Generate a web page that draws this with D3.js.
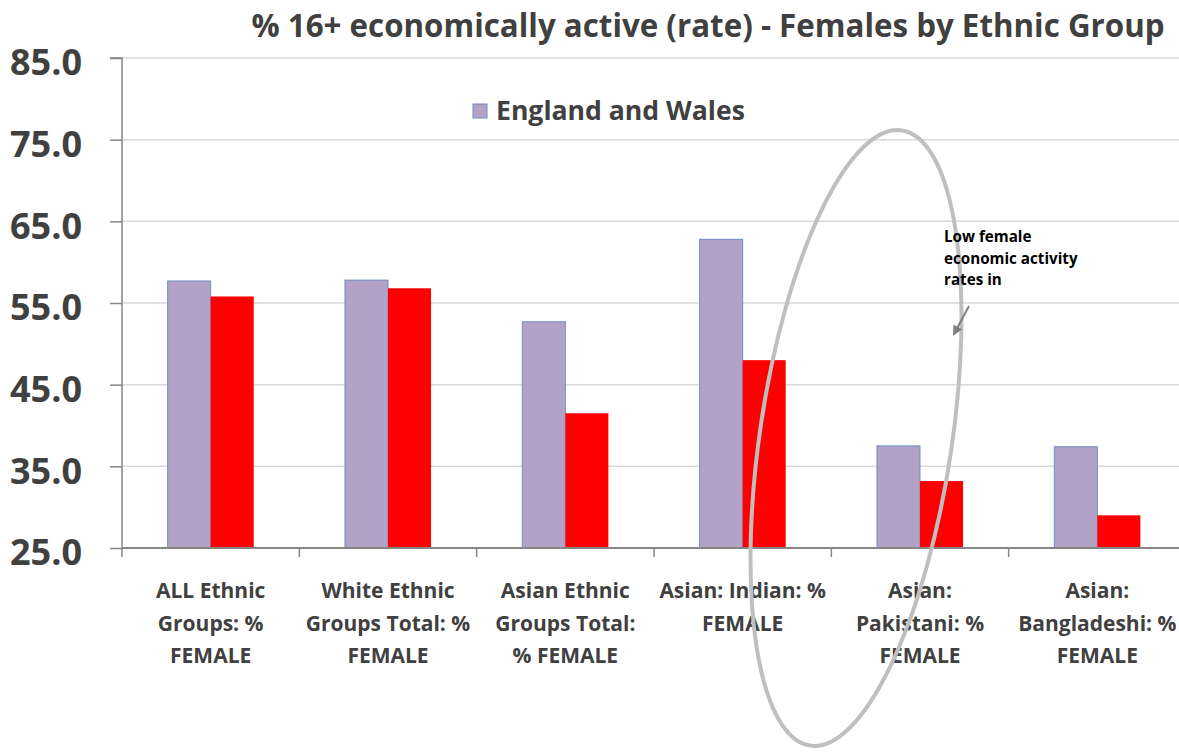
<!DOCTYPE html>
<html><head><meta charset="utf-8">
<script src="https://cdn.jsdelivr.net/npm/d3@7"></script>
<style>body{margin:0;background:#fff}svg{display:block}text{font-family:"Open Sans",Lato,sans-serif;font-weight:700}</style>
</head><body><svg id="c" width="1179" height="756"></svg>
<script>
const categories = [
  ["ALL Ethnic","Groups: %","FEMALE"],
  ["White Ethnic","Groups Total: %","FEMALE"],
  ["Asian Ethnic","Groups Total:","% FEMALE"],
  ["Asian: Indian: %","FEMALE"],
  ["Asian:","Pakistani: %","FEMALE"],
  ["Asian:","Bangladeshi: %","FEMALE"]
];
const englandWales = [57.7, 57.8, 52.7, 62.8, 37.5, 37.4];
const local = [55.8, 56.8, 41.5, 48.0, 33.2, 29.0];
const yTicks = [25, 35, 45, 55, 65, 75, 85];
const titleText = "% 16+ economically active (rate) - Females by Ethnic Group";
const legendLabel = "England and Wales";
const noteLines = ["Low female","economic activity","rates in"];

const svg = d3.select("#c");
const L = 122, R = 1186, T = 58, B = 548;
const y = d3.scaleLinear().domain([25, 85]).range([B, T]);
const keys = categories.map((c,i)=>i);
const x0 = d3.scaleBand().domain(keys).range([L, R]).padding(0);
const series = ["ew","loc"];
const x1 = d3.scaleBand().domain(series).range([0, x0.bandwidth()]).paddingInner(0).paddingOuter(1.06);

// gridlines
svg.append("g").selectAll("line").data(yTicks.slice(1)).join("line")
  .attr("x1", L).attr("x2", 1179).attr("y1", d=>y(d)).attr("y2", d=>y(d))
  .attr("stroke", "#d9d9d9").attr("stroke-width", 1.5);

// bars
const data = keys.map(i => ({i, ew: englandWales[i], loc: local[i]}));
const g = svg.append("g");
g.selectAll("rect.ew").data(data).join("rect").attr("class","ew")
  .attr("x", d=>x0(d.i)+x1("ew")).attr("width", x1.bandwidth())
  .attr("y", d=>y(d.ew)).attr("height", d=>B - y(d.ew))
  .attr("fill", "#b3a2c7").attr("stroke", "#6f8fc4").attr("stroke-width", 1);
g.selectAll("rect.loc").data(data).join("rect").attr("class","loc")
  .attr("x", d=>x0(d.i)+x1("loc")).attr("width", x1.bandwidth())
  .attr("y", d=>y(d.loc)).attr("height", d=>B - y(d.loc))
  .attr("fill", "#ff0000");

// y axis
const ya = svg.append("g").attr("transform", `translate(${L},0)`)
  .call(d3.axisLeft(y).tickValues(yTicks).tickSize(12).tickPadding(10).tickFormat(d3.format(".1f")));
ya.select(".domain").attr("stroke", "#868686").attr("stroke-width", 1.5).attr("d", `M-12,${T}H0V${B}`);
ya.selectAll(".tick line").attr("stroke", "#868686").attr("stroke-width", 1.5);
ya.selectAll(".tick text").attr("fill", "#404040").style("font-size", "36px").attr("dy", "0.47em").attr("x", -40);

// x axis
const boundaries = keys.map(i => x0(i)).concat([R]);
svg.append("line").attr("x1", L).attr("x2", 1179).attr("y1", B).attr("y2", B)
  .attr("stroke", "#868686").attr("stroke-width", 2);
svg.append("g").selectAll("line").data(boundaries).join("line")
  .attr("x1", d=>d).attr("x2", d=>d).attr("y1", B).attr("y2", B+9)
  .attr("stroke", "#868686").attr("stroke-width", 1.5);

// x labels
const xl = svg.append("g").selectAll("text").data(data).join("text")
  .attr("text-anchor","middle").attr("fill","#404040").style("font-size","21px")
  .attr("x", d=>x0(d.i)+x0.bandwidth()/2).attr("y", 598);
xl.selectAll("tspan").data(d=>categories[d.i]).join("tspan")
  .attr("x", function(){return this.parentNode.getAttribute("x");})
  .attr("dy", (d,j)=> j===0 ? 0 : 32.5).text(d=>d);

// title
svg.append("text").attr("x", 708).attr("y", 37).attr("text-anchor","middle")
  .attr("fill","#404040").style("font-size","31.3px").text(titleText);

// legend
svg.append("rect").attr("x", 473).attr("y", 104).attr("width", 14).attr("height", 14)
  .attr("fill", "#b3a2c7").attr("stroke", "#6f8fc4").attr("stroke-width", 1);
svg.append("text").attr("x", 496).attr("y", 120).attr("fill","#404040")
  .style("font-size","26.6px").text(legendLabel);

// annotation ellipse
svg.append("ellipse").attr("cx", 0).attr("cy", 0).attr("rx", 96).attr("ry", 311)
  .attr("transform", "translate(856,438) rotate(8.5)")
  .attr("fill","none").attr("stroke","#bfbfbf").attr("stroke-width",4);

// note
svg.append("text").attr("x", 944).attr("y", 242).attr("fill","#000").style("font-size","15.2px")
  .selectAll("tspan").data(noteLines).join("tspan").attr("x", 944).attr("dy",(d,j)=> j===0?0:21.5).text(d=>d);
svg.append("defs").append("marker").attr("id","ah").attr("viewBox","0 0 10 10").attr("refX",8).attr("refY",5)
  .attr("markerWidth",5).attr("markerHeight",5).attr("orient","auto")
  .append("path").attr("d","M0,0L10,5L0,10z").attr("fill","#808080");
svg.append("line").attr("x1",969).attr("y1",306).attr("x2",954).attr("y2",334)
  .attr("stroke","#808080").attr("stroke-width",2).attr("marker-end","url(#ah)");
</script></body></html>
